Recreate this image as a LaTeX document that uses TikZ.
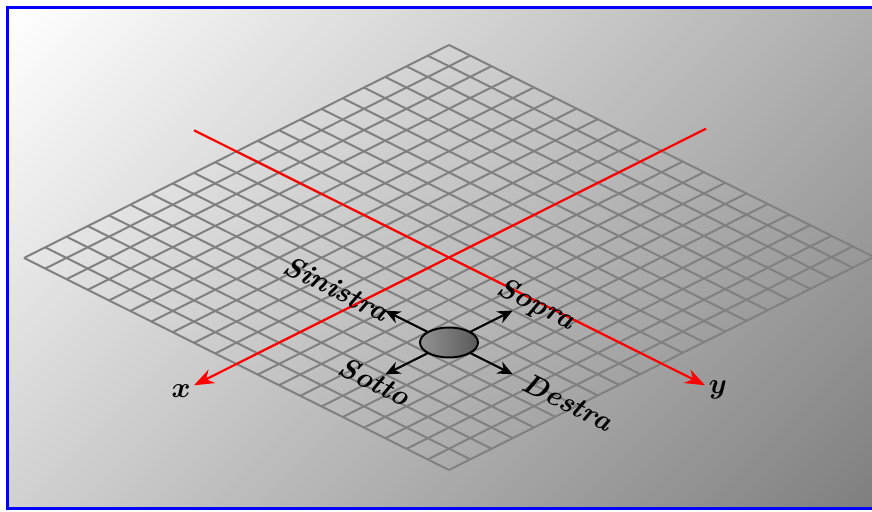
\documentclass[tikz,border=0pt]{standalone}
\usetikzlibrary{arrows.meta,shapes.geometric}
\pgfdeclareverticalshading{bgdiag}{100bp}{color(0bp)=(gray); color(51bp)=(gray); color(85.3bp)=(white); color(100bp)=(white)}
\begin{document}
\begin{tikzpicture}[x=0.5pt,y=-0.5pt,
  gridline/.style={draw=gray, line width=1pt},
  axisline/.style={draw=red, line width=1.1pt, -{Stealth[length=10pt,width=7.5pt]}},
  dirarrow/.style={draw=black, line width=1pt, -{Stealth[length=7.5pt,width=6.5pt]}},
  lbl/.style={font=\Large\bfseries\itshape, rotate=-26.57, inner sep=0pt},
  axlbl/.style={font=\Large\boldmath, inner sep=0pt}]
\useasboundingbox (0,0) rectangle (872,512);
\begin{scope}
  \clip (7.5,7.5) rectangle (900,508.5);
  \shade[shading=bgdiag, shading angle=45] (7.5,7.5) rectangle (1407.5,1407.5);
\end{scope}
\draw[blue, line width=1.3pt] (7.5,7.5) rectangle (900,508.5);
\begin{scope}[shift={(24,258)}, x={(10.625pt,5.325pt)}, y={(10.625pt,-5.3pt)}]
  \foreach \k in {0,...,20} {
    \draw[gridline] (\k,0) -- (\k,20);
    \draw[gridline] (0,\k) -- (20,\k);
  }
  \coordinate (xs) at (22.1,10);
  \coordinate (xe) at (-2,10);
  \coordinate (ys) at (10,-2);
  \coordinate (ye) at (10,22.05);
  \draw[axisline] (xs) -- (xe);
  \draw[axisline] (ys) -- (ye);
  \node[ellipse, draw, line width=1pt, minimum width=29pt, minimum height=15pt,
        inner sep=0pt, left color=gray!85, middle color=gray!30, right color=black!65] (c) at (6,14) {};
  \coordinate (tul) at (6,11);
  \coordinate (tur) at (9,14);
  \coordinate (tdl) at (3,14);
  \coordinate (tdr) at (6,17);
  \draw[dirarrow] (c) -- (tul);
  \draw[dirarrow] (c) -- (tur);
  \draw[dirarrow] (c) -- (tdl);
  \draw[dirarrow] (c) -- (tdr);
  \node[lbl] (sin) at (5.9,8.8) {Sinistra};
  \node[lbl] (sop) at (9.8,14.3) {Sopra};
  \node[lbl] (sot) at (2.4,14.1) {Sotto};
  \node[lbl] (des) at (6,19.6) {Destra};
\end{scope}
\node[axlbl] (xl) at (181,391) {$x$};
\node[axlbl] (yl) at (718,390) {$y$};
\end{tikzpicture}
\end{document}
